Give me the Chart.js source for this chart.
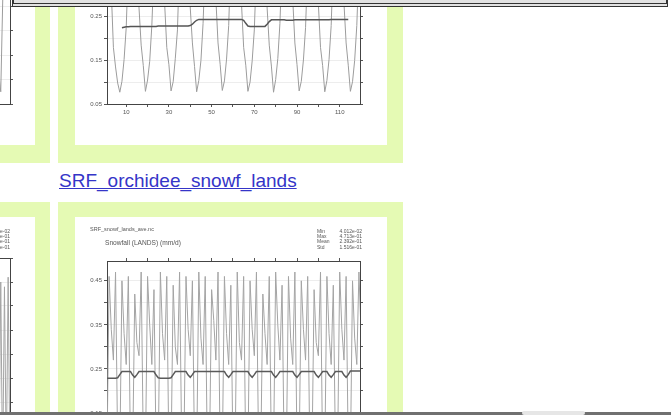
<!DOCTYPE html>
<html>
<head>
<meta charset="utf-8">
<script src="https://cdn.jsdelivr.net/npm/chart.js@4.4.0/dist/chart.umd.min.js"></script>
<style>
  html, body { margin: 0; padding: 0; background: #fff; overflow: hidden; width: 671px; height: 415px; }
  body { position: relative; font-family: "Liberation Sans", Arial, sans-serif; }
  .green { position: absolute; background: #e5fab4; }
  .white { position: absolute; background: #fff; }
  canvas { position: absolute; }
  .txt { position: absolute; color: #555; white-space: pre; line-height: 1; }
  .link { position: absolute; left: 59px; top: 170px; font-size: 19px; line-height: 22px; color: #3535c8; text-decoration: underline; }
  .topbar { position: absolute; left: 12px; top: -8px; width: 652px; height: 11px; background: #e2e2e2;
            border-left: 2px solid #333; border-right: 2px solid #333; border-bottom: 4px double #333; }
  .bottombar { position: absolute; left: 0; top: 412px; width: 671px; height: 3px; background: #707070; }
  .thumb { position: absolute; left: 522px; top: 411px; width: 63px; height: 4px; background: #e6e6e6; border-radius: 2px; }
</style>
</head>
<body>

<!-- upper row of thumbnails -->
<div class="green" style="left:-20px; top:-20px; width:70px; height:183px;"></div>
<div class="white" style="left:-20px; top:-20px; width:55px; height:165px;"></div>
<div class="green" style="left:58px; top:-20px; width:345px; height:183px;"></div>
<div class="white" style="left:75px; top:-20px; width:312px; height:165px;"></div>
<canvas id="topLeftChart" width="275" height="275" style="left:-240px; top:-130px;"></canvas>
<canvas id="topChart" width="312" height="279" style="left:75px; top:-134px;"></canvas>

<a class="link" href="#">SRF_orchidee_snowf_lands</a>

<!-- lower row of thumbnails -->
<div class="green" style="left:-20px; top:202px; width:70px; height:300px;"></div>
<div class="white" style="left:-20px; top:217px; width:55px; height:300px;"></div>
<div class="green" style="left:58px; top:202px; width:345px; height:300px;"></div>
<div class="white" style="left:75px; top:217px; width:312px; height:300px;"></div>
<canvas id="bottomLeftChart" width="275" height="300" style="left:-240px; top:217px;"></canvas>
<canvas id="bottomChart" width="312" height="300" style="left:75px; top:217px;"></canvas>

<div class="txt" style="left:-30px; top:229px; width:40px; font-size:5px; line-height:5.2px; text-align:right;">9.1e-02
6e-01
8e-01
1e-01</div>
<div class="txt" style="left:90px; top:227px; font-size:5.5px;">SRF_snowf_lands_ave.nc</div>
<div class="txt" style="left:105px; top:240px; font-size:6.6px;">Snowfall (LANDS) (mm/d)</div>
<div class="txt" style="left:317px; top:229px; font-size:5px; line-height:5.2px;">Min
Max
Mean
Std</div>
<div class="txt" style="left:332px; top:229px; width:30px; font-size:5px; line-height:5.2px; text-align:right;">4.012e-02
4.713e-01
2.392e-01
1.516e-01</div>

<div class="topbar"></div>
<div class="bottombar"></div>
<div class="thumb"></div>

<script>
// months 1..120 (10 years, monthly)
var months = Array.from({ length: 120 }, function (_, i) { return i + 1; });
var monthTicks = [10, 20, 30, 40, 50, 60, 70, 80, 90, 100, 110];

// upper thumbnail: monthly values and 12-month running mean
var topMonthly = [
  0.52, 0.46, 0.31, 0.18, 0.135, 0.098, 0.077,
  0.102, 0.152, 0.225, 0.37, 0.47, 0.53, 0.51, 0.41, 0.27, 0.185, 0.138, 0.079,
  0.105, 0.148, 0.23, 0.36, 0.48, 0.52, 0.50, 0.42, 0.28, 0.18, 0.140, 0.080,
  0.101, 0.155, 0.22, 0.38, 0.49, 0.54, 0.52, 0.40, 0.27, 0.19, 0.136, 0.078,
  0.104, 0.150, 0.235, 0.37, 0.50, 0.55, 0.53, 0.43, 0.29, 0.19, 0.141, 0.081,
  0.103, 0.153, 0.23, 0.39, 0.49, 0.55, 0.52, 0.42, 0.28, 0.18, 0.139, 0.079,
  0.100, 0.149, 0.22, 0.36, 0.47, 0.52, 0.50, 0.41, 0.27, 0.185, 0.137, 0.077,
  0.106, 0.154, 0.235, 0.38, 0.50, 0.54, 0.52, 0.43, 0.29, 0.19, 0.140, 0.080,
  0.102, 0.151, 0.225, 0.37, 0.48, 0.54, 0.51, 0.42, 0.28, 0.18, 0.138, 0.078,
  0.104, 0.152, 0.23, 0.38, 0.49, 0.55, 0.53, 0.42, 0.28, 0.19, 0.139, 0.079,
  0.101, 0.150, 0.23, 0.37, 0.47
];
var topMean = [
  null, null, null, null, null, null, null,
  0.225, 0.226, 0.227, 0.227, 0.228, 0.228, 0.228, 0.228, 0.228, 0.228, 0.228, 0.228,
  0.228, 0.228, 0.228, 0.228, 0.228, 0.229, 0.229, 0.229, 0.229, 0.229, 0.229, 0.229,
  0.229, 0.229, 0.229, 0.229, 0.229, 0.229, 0.229, 0.229, 0.230, 0.233, 0.238, 0.242,
  0.244, 0.244, 0.244, 0.244, 0.244, 0.244, 0.244, 0.244, 0.244, 0.244, 0.244, 0.244,
  0.244, 0.244, 0.244, 0.244, 0.244, 0.244, 0.244, 0.244, 0.244, 0.242, 0.235, 0.229,
  0.228, 0.228, 0.228, 0.228, 0.228, 0.228, 0.228, 0.228, 0.233, 0.239, 0.243, 0.243,
  0.243, 0.243, 0.243, 0.243, 0.243, 0.242, 0.242, 0.242, 0.242, 0.243, 0.243, 0.243,
  0.243, 0.243, 0.243, 0.243, 0.243, 0.243, 0.243, 0.243, 0.243, 0.243, 0.243, 0.243,
  0.243, 0.243, 0.244, 0.244, 0.244, 0.244, 0.244, 0.244, 0.244, 0.244, 0.244, null,
  null, null, null, null, null
];
var topYTicks = [0.05, 0.1, 0.15, 0.2, 0.25, 0.3, 0.35, 0.4, 0.45, 0.5, 0.55];

// lower thumbnail: Snowfall (LANDS) (mm/d)
var snowMonthly = [
  0.06, 0.46, 0.34, 0.27, 0.47, 0.07, 0.05, 0.45, 0.33, 0.26, 0.46, 0.06,
  0.05, 0.42, 0.31, 0.28, 0.47, 0.08, 0.05, 0.46, 0.35, 0.26, 0.43, 0.06,
  0.06, 0.47, 0.33, 0.27, 0.46, 0.05, 0.05, 0.44, 0.30, 0.26, 0.47, 0.07,
  0.06, 0.46, 0.34, 0.28, 0.45, 0.06, 0.05, 0.47, 0.32, 0.26, 0.46, 0.05,
  0.06, 0.43, 0.36, 0.27, 0.47, 0.07, 0.05, 0.46, 0.33, 0.26, 0.44, 0.06,
  0.06, 0.47, 0.31, 0.27, 0.46, 0.05, 0.05, 0.45, 0.34, 0.28, 0.47, 0.07,
  0.05, 0.42, 0.33, 0.26, 0.46, 0.06, 0.06, 0.47, 0.35, 0.27, 0.44, 0.05,
  0.05, 0.46, 0.32, 0.26, 0.47, 0.07, 0.06, 0.45, 0.34, 0.27, 0.46, 0.06,
  0.05, 0.43, 0.31, 0.28, 0.47, 0.05, 0.05, 0.46, 0.33, 0.26, 0.44, 0.07,
  0.06, 0.47, 0.34, 0.27, 0.46, 0.06, 0.05, 0.45, 0.32, 0.26, 0.47, 0.33
];
var snowMean = [
  0.229, 0.229, 0.229, 0.229, 0.229, 0.230, 0.237,
  0.244, 0.244, 0.244, 0.244, 0.244,
  0.236, 0.231, 0.237,
  0.244, 0.244, 0.244, 0.244, 0.244, 0.244, 0.244, 0.244,
  0.236, 0.230, 0.229, 0.229, 0.229, 0.229, 0.229, 0.230, 0.237,
  0.244, 0.244, 0.244, 0.244, 0.244, 0.244,
  0.236, 0.231, 0.237,
  0.244, 0.244, 0.244, 0.244, 0.244, 0.244, 0.244, 0.244, 0.244, 0.244, 0.244, 0.244, 0.244, 0.244, 0.244,
  0.236, 0.231, 0.237,
  0.244, 0.244, 0.244, 0.244, 0.244, 0.244, 0.244, 0.244,
  0.236, 0.231, 0.237,
  0.244, 0.244, 0.244, 0.244, 0.244, 0.244, 0.244, 0.244,
  0.236, 0.231, 0.237,
  0.244, 0.244, 0.244, 0.244, 0.244, 0.244, 0.244,
  0.236, 0.231, 0.237,
  0.244, 0.244, 0.244, 0.244, 0.244, 0.244, 0.244,
  0.236, 0.231, 0.237,
  0.244, 0.244, 0.244,
  0.236, 0.231, 0.237,
  0.244, 0.244, 0.244, 0.244,
  0.236, 0.231, 0.237,
  0.245, 0.245, 0.245, 0.245, 0.245, 0.245
];
var snowYTicks = [0.05, 0.1, 0.15, 0.2, 0.25, 0.3, 0.35, 0.4, 0.45];

// neighbouring thumbnails on the left (only their right edge is on screen)
var leftMonths = [112, 113, 114, 115, 116, 117, 118, 119, 120];
var leftTopValues = [0.30, 0.15, 0.06, 0.025, 0.20, 0.36, 0.42, 0.45, 0.44];
var leftBottomValues = [0.05, 0.46, 0.06, 0.45, 0.05, 0.44, 0.07, 0.46, 0.05];
var leftTopYTicks = [0, 0.05, 0.1, 0.15, 0.2, 0.25, 0.3, 0.35, 0.4];
var leftBottomYTicks = [0.2, 0.25, 0.3, 0.35, 0.4, 0.45, 0.5];

var tickFont = { family: 'Liberation Sans', size: 6 };

function plotChart(idName, labels, datasets, yMin, yMax, yTicks, xMax, box) {
     function fixedTicks(values) {
          return function (scale) { scale.ticks = values.map(function (v) { return { value: v }; }); };
     }
     var sideGrid = { drawOnChartArea: false, tickLength: 3, tickColor: '#555' };

     return new Chart(idName, {
          type: 'line',
          data: { labels: labels, datasets: datasets },
          options: {
               responsive: false,
               animation: false,
               devicePixelRatio: 1,
               layout: { padding: 0 },
               plugins: {
                    legend: { display: false },
                    tooltip: { enabled: false }
               },
               elements: {
                    point: { radius: 0 },
                    line: { tension: 0 }
               },
               scales: {
                    x: {
                         type: 'linear', position: 'bottom', min: 1, max: xMax,
                         afterBuildTicks: fixedTicks(monthTicks),
                         afterFit: function (s) { s.height = box.bottom; },
                         grid: sideGrid,
                         border: { color: '#444' },
                         ticks: {
                              font: tickFont, color: '#555', padding: 2, maxRotation: 0, autoSkip: false,
                              callback: function (v) { return (v - 10) % 20 === 0 ? String(v) : ''; }
                         }
                    },
                    x2: {
                         type: 'linear', position: 'top', min: 1, max: xMax,
                         afterBuildTicks: fixedTicks(monthTicks),
                         afterFit: function (s) { s.height = box.top; },
                         grid: sideGrid,
                         border: { color: '#444' },
                         ticks: { display: false }
                    },
                    y: {
                         type: 'linear', position: 'left', min: yMin, max: yMax,
                         afterBuildTicks: fixedTicks(yTicks),
                         afterFit: function (s) { s.width = box.left; },
                         grid: { color: 'rgba(0,0,0,0.07)', tickColor: '#555', tickLength: 3 },
                         border: { color: '#444' },
                         ticks: {
                              font: tickFont, color: '#555', padding: 2, autoSkip: false,
                              callback: function (v) { return Math.round(v * 100) % 10 === 5 ? v.toFixed(2) : ''; }
                         }
                    },
                    y2: {
                         type: 'linear', position: 'right', min: yMin, max: yMax,
                         afterBuildTicks: fixedTicks(yTicks),
                         afterFit: function (s) { s.width = box.right; },
                         grid: sideGrid,
                         border: { color: '#444' },
                         ticks: { display: false }
                    }
               }
          }
     });
}

plotChart('topChart', months, [
     { data: topMean, borderColor: '#555', borderWidth: 1.5, fill: false },
     { data: topMonthly, borderColor: '#9c9c9c', borderWidth: 1, fill: false }
], 0.05, 0.55, topYTicks, 119.5, { left: 32, right: 27, top: 20, bottom: 41 });

plotChart('bottomChart', months, [
     { data: snowMean, borderColor: '#5a5a5a', borderWidth: 1.5, fill: false },
     { data: snowMonthly, borderColor: '#a4a4a4', borderWidth: 1, fill: false }
], 0.05, 0.495, snowYTicks, 119.5, { left: 32, right: 27, top: 44, bottom: 60 });

plotChart('topLeftChart', leftMonths, [
     { data: leftTopValues, borderColor: '#9c9c9c', borderWidth: 1, fill: false }
], 0, 0.4, leftTopYTicks, 120, { left: 30, right: 25, top: 38, bottom: 41 });

plotChart('bottomLeftChart', leftMonths, [
     { data: leftBottomValues, borderColor: '#a4a4a4', borderWidth: 1, fill: false }
], 0, 0.5, leftBottomYTicks, 120, { left: 30, right: 25, top: 41, bottom: 19 });
</script>
</body>
</html>
